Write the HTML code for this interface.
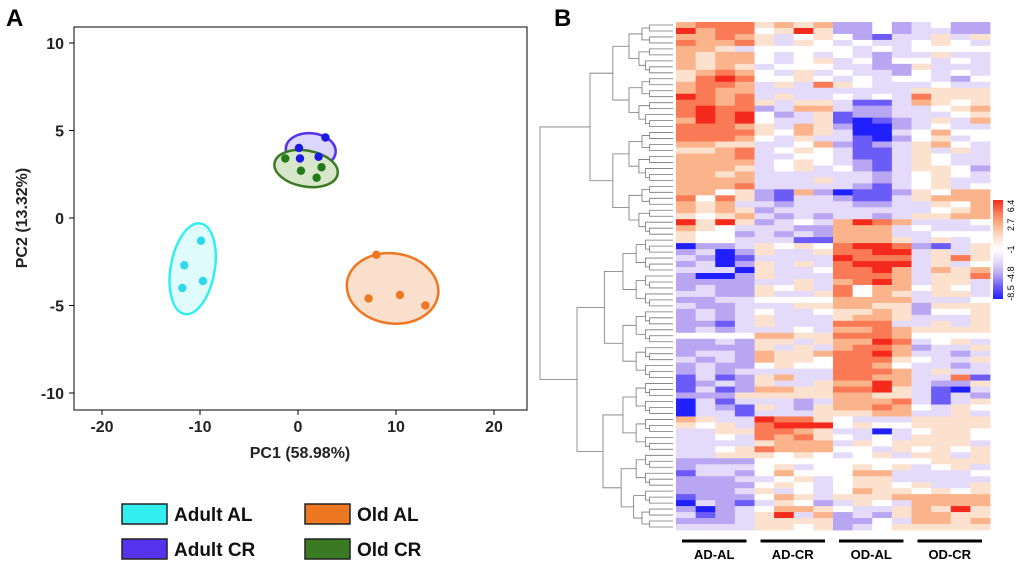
<!DOCTYPE html>
<html><head><meta charset="utf-8"><style>
body{margin:0;background:#fff;font-family:"Liberation Sans",sans-serif}
svg text{font-family:"Liberation Sans",sans-serif}
</style></head><body>
<svg id="fig" width="1020" height="566" viewBox="0 0 1020 566" xmlns="http://www.w3.org/2000/svg">
<text x="6" y="26" font-size="24" font-weight="bold">A</text>
<text x="554" y="26" font-size="24" font-weight="bold">B</text>
<g id="pca"></g>
<g id="heat"></g>
<g id="dendro"></g>
</svg>
<script>
const NS="http://www.w3.org/2000/svg";
function mk(p,t,a){const e=document.createElementNS(NS,t);for(const k in a)e.setAttribute(k,a[k]);p.appendChild(e);return e;}
// ---- PCA data ----
const xTicks=[-20,-10,0,10,20];
const yTicks=[10,5,0,-5,-10];
const groupNames=["Adult AL","Adult CR","Old AL","Old CR"];
const groupColors=["#33eef0","#5533ee","#ee7722","#3a7a22"];
const groupFills=["#e0fbfc","#dcd6fb","#fae0cc","#d8e6cc"];
const adultAL_x=[-9.9,-11.6,-11.8,-9.7];
const adultAL_y=[-1.3,-2.7,-4.0,-3.6];
const adultCR_x=[2.8,0.1,0.2,2.1];
const adultCR_y=[4.6,4.0,3.4,3.5];
const oldAL_x=[8.0,7.2,10.4,13.0];
const oldAL_y=[-2.1,-4.6,-4.4,-5.0];
const oldCR_x=[-1.3,0.3,2.4,1.9];
const oldCR_y=[3.4,2.7,2.9,2.3];
const X=v=>298+v*9.8, Y=v=>218-v*17.5;
const pca=document.getElementById('pca');
let r=mk(pca,'rect',{x:74,y:27,width:453,height:383,fill:'none',stroke:'#000','stroke-width':1});


xTicks.forEach(v=>{mk(pca,'line',{x1:X(v),x2:X(v),y1:410,y2:415,stroke:'#000'});
 const t=mk(pca,'text',{x:X(v),y:432,'font-size':16,'font-weight':'bold','text-anchor':'middle',fill:'#222'});t.textContent=v;
 
 });
yTicks.forEach(v=>{mk(pca,'line',{x1:69,x2:74,y1:Y(v),y2:Y(v),stroke:'#000'});
 const t=mk(pca,'text',{x:64,y:Y(v)+6,'font-size':16,'font-weight':'bold','text-anchor':'end',fill:'#222'});t.textContent=v;
 
 });
let t=mk(pca,'text',{x:300,y:458,'font-size':16,'font-weight':'bold','text-anchor':'middle',fill:'#222'});t.textContent="PC1 (58.98%)";


t=mk(pca,'text',{x:0,y:0,'font-size':16,'font-weight':'bold','text-anchor':'middle',fill:'#222',transform:'translate(27,218) rotate(-90)'});t.textContent="PC2 (13.32%)";


const groups=[[adultAL_x,adultAL_y],[adultCR_x,adultCR_y],[oldAL_x,oldAL_y],[oldCR_x,oldCR_y]];
const ell=[[22,46,10],[25,17,5],[46,35,8],[32,18,10]];
groups.forEach((g,i)=>{
 const cx=g[0].reduce((a,b)=>a+b)/g[0].length, cy=g[1].reduce((a,b)=>a+b)/g[1].length;
 const e=mk(pca,'ellipse',{cx:X(cx),cy:Y(cy),rx:ell[i][0],ry:ell[i][1],fill:groupFills[i],stroke:groupColors[i],'stroke-width':2.5,transform:`rotate(${ell[i][2]} ${X(cx)} ${Y(cy)})`});
 
 
});
groups.forEach((g,i)=>{
 g[0].forEach((x,j)=>{const c=mk(pca,'circle',{cx:X(x),cy:Y(g[1][j]),r:4.2,fill:i==0?'#2fd8e8':i==1?'#1a1ae0':i==2?'#ee7722':'#237a1a'});
  
  });
});
// legend
const legPos=[[122,504],[122,539],[305,504],[305,539]];
groupNames.forEach((n,i)=>{const g=mk(pca,'g',{});
 
 
 mk(g,'rect',{x:legPos[i][0],y:legPos[i][1],width:45,height:20,fill:groupColors[i],stroke:'#222','stroke-width':1.5});
 const tt=mk(g,'text',{x:legPos[i][0]+52,y:legPos[i][1]+17,'font-size':19,'font-weight':'bold',fill:'#111'});tt.textContent=n;});
// ---- Heatmap data ----
const heatRows=[
"rsssororpp0pq0pp","Rrss0oRopp0pqqpp","rrsroq0o0pbqqoqo","srrsoqo0q0qq0o0q","rroq00000q0q0000","rorr0q0q0qpqqoqq","rorr0q0oq0p00q0q","roroq000qqppoqqq","orsr0qoq0qqp0q0q","osRs00o0q0q00qp0",
"rssrqoqso0qqq0qq","rsrrqqqqqqqqoooo","Rsrsqoqq0q0qsooo","ssrsoqooqbbqro0o","sRsspqrrqppqq0or","sRsR0pqobppqqq0o","rRsR0qqobBbpqoqr","sssroqropBBpq0qq","sssso0roqBBq0r00","sssr0qoqqbBp0oq0",
"rrooqq0rpbpqor0q","oorsq0o0qbbqoqoq","rrrsqq00qbbqo0qq","rrrrq0o0qpbqo0qq","rrroq0oq0pbqoo0p","rrorqqqqqqpq0o0q","rrrrqqqoqqpq0oqq","rrrsqqqqqpbq0oq0","rr0opbrpBbbpo0rr","s0sopbqqpbbqorrr",
"rorqqpqqqppqqo0r","roropqqqqqqqq0or","o0orqpqpqqpqoorr","RoRopq0qrRsrqqq0","ro0qqqpprrrq0qqq","o00pqpqprrrqq000","o00qqqbbrrroqoq0","Bppqo0o0sRRspbqo","pqBpoqqossRRqoqo","qpBbqqqqRsssqoso",
"pqBpoqoqsRRRqoq0","qqqBoqq0ssRrqror","pBBpoqqqsssrqoos","ppppqqoqrsRrqooq","pqppo0oqs0rr0o0q","qqppoqqos0roqooq","ppqq0000rrrrqqq0","qppqqqoorroopooo","pqpq0qq0ooro p00o","pqpqoqqqorroqqqo",
"ppbqoqqqsssqqoqo","pqpqqq0qrrsroooo","0000rroosssr0000","ppqpooqorrRsq0oq","ppppoqoqrssrpqqo","pqqproorssRrqqpq","qpqproo0ssso0qqo","pqpp0o00ssr0qqpq","pqpqqqqqsssrqoqq","bqbporqqssrrqqsb",
"bpqpoqqorrRrqppo","bqbprroossRoqbBq","pppooooorrooqbqp","Bqbqqqpqrrrsqbqo","Bqpboqporrsr0qo0","Bqqbqqqooorrqqoq","roqqRsso0qqqoooo","o0oqsRRR0o00oooo","qqoossroqqBq0oo0","qq0qsrso0q0qooo0",
"qqqqorrrqo0ooooq","qq0osrrr00qo0o0o","qqooo0o0q0oqooqo","pppp000000000ooo","pqqq0oq00o0oq0oq","bqqp0r000rrqqqq0","pppqq0oq0ooqqqqq","pppp0o0q0oo0oqqo","pppqoq0q0roo0o0o","bppp0roqooorrrrr",
"Bqpbqo0pqo0qrrrr","pBpq0rro0qqoroRo","qbpqoRqrpqporroo","pppqoooopp0qrror","qqqqoo0opq0ooooo"];
const levels={B:-4,b:-3,p:-2,q:-1,'0':0,o:1,r:2,s:3,R:4};
const palette=["#2020ff","#6b5cf7","#b8a6f3","#e4daf9","#ffffff","#fde1cf","#fbb38b","#f97a55","#f32a1c"];
const groupLabels=["AD-AL","AD-CR","OD-AL","OD-CR"];
const colorbarTicks=[6.4,2.7,-1,-4.8,-8.5];
const HX0=676,HX1=990,HY0=22,HY1=530,NC=16,NR=heatRows.length;
const cw=(HX1-HX0)/NC, rh=(HY1-HY0)/NR;
const heat=document.getElementById('heat');
heatRows.forEach((row,i)=>{const s=row.replace(/ /g,'');
 for(let j=0;j<NC;j++){const v=levels[s[j]]??0;
  const c=mk(heat,'rect',{x:HX0+j*cw,y:HY0+i*rh,width:cw+0.4,height:rh+0.4,fill:palette[v+4]});
  
  }});
groupLabels.forEach((n,k)=>{const x0=HX0+k*4*cw+6,x1=HX0+(k+1)*4*cw-8;
 const l=mk(heat,'line',{x1:x0,x2:x1,y1:541,y2:541,stroke:'#000','stroke-width':3});
 
 
 const tt=mk(heat,'text',{x:(x0+x1)/2,y:559,'font-size':13,'font-weight':'bold','text-anchor':'middle'});tt.textContent=n;
 
 });
// colorbar
const defs=mk(heat,'defs',{});const lg=mk(defs,'linearGradient',{id:'cb',x1:0,y1:1,x2:0,y2:0});
palette.forEach((c,i)=>mk(lg,'stop',{offset:i/8,'stop-color':c}));
const cb=mk(heat,'rect',{x:993,y:200,width:10,height:99,fill:'url(#cb)'});


colorbarTicks.forEach((v,i)=>{const y=200+i*(99/4)+(i==0?6:i==4?-6:0);
 const tt=mk(heat,'text',{x:0,y:0,'font-size':9,'text-anchor':'middle',transform:`translate(1014,${y}) rotate(-90)`});tt.textContent=v;
 
 });
// dendrogram
const dg=document.getElementById('dendro');
function tree(lo,hi,root){
 if(hi-lo==1)return{y:HY0+(lo+0.5)*rh,x:673};
 const n=hi-lo;const mid=root?lo+36:lo+Math.floor(n/2);
 const a=tree(lo,mid),b=tree(mid,hi);
 const x=root?540:Math.max(545,672-13*Math.sqrt(n)-4);
 mk(dg,'path',{d:`M${a.x},${a.y}H${x}V${b.y}H${b.x}`,fill:'none',stroke:'#777','stroke-width':0.8});
 return{x:x,y:(a.y+b.y)/2};}
const rt=tree(0,NR,true);
</script>
</body></html>
